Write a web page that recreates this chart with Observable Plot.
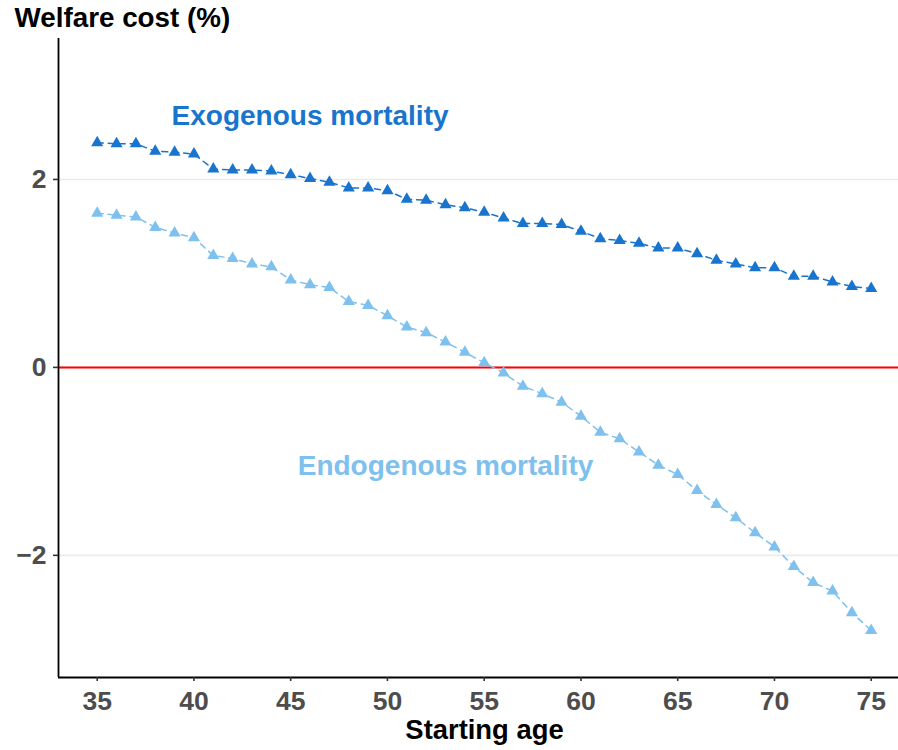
<!DOCTYPE html>
<html>
<head>
<meta charset="utf-8">
<script src="https://cdn.jsdelivr.net/npm/d3@7"></script>
<script src="https://cdn.jsdelivr.net/npm/@observablehq/plot@0.6"></script>
<style>
  html, body { margin: 0; padding: 0; background: white; }
</style>
</head>
<body>
<div id="chart"></div>
<script>
const ages = [35,36,37,38,39,40,41,42,43,44,45,46,47,48,49,50,51,52,53,54,55,56,57,58,59,60,61,62,63,64,65,66,67,68,69,70,71,72,73,74,75];
const exogenous = [2.39,2.38,2.38,2.30,2.29,2.27,2.11,2.10,2.10,2.09,2.05,2.01,1.97,1.91,1.91,1.88,1.79,1.78,1.73,1.70,1.65,1.59,1.53,1.53,1.52,1.45,1.37,1.35,1.32,1.27,1.27,1.21,1.14,1.10,1.06,1.06,0.97,0.97,0.91,0.86,0.84];
const endogenous = [1.64,1.62,1.60,1.49,1.43,1.38,1.19,1.16,1.10,1.07,0.93,0.88,0.85,0.70,0.66,0.55,0.43,0.37,0.27,0.16,0.05,-0.06,-0.20,-0.28,-0.37,-0.52,-0.69,-0.76,-0.90,-1.04,-1.14,-1.31,-1.46,-1.60,-1.76,-1.91,-2.12,-2.29,-2.38,-2.61,-2.80];
const seriesNames = ["Exogenous mortality", "Endogenous mortality"];
const seriesColors = ["#1874CD", "#7EC0EE"];
const labelX = [46.0, 53.0];
const labelY = [2.68, -1.05];
const yTicks = [-2, 0, 2];
const xTicks = [35,40,45,50,55,60,65,70,75];
const yTitle = "Welfare cost (%)";
const xTitle = "Starting age";

const rows = [];
ages.forEach((a, i) => {
  rows.push({age: a, value: exogenous[i], series: seriesNames[0]});
  rows.push({age: a, value: endogenous[i], series: seriesNames[1]});
});
const labels = seriesNames.map((s, i) => ({series: s, x: labelX[i], y: labelY[i]}));

const xDomain = [33.0, 76.41];
const yDomain = [-3.30, 3.50];
const font = "'Liberation Sans', Arial, Helvetica, sans-serif";

const chart = Plot.plot({
  width: 898,
  height: 750,
  marginLeft: 58,
  marginRight: 0,
  marginTop: 38,
  marginBottom: 73,
  style: {fontFamily: font, background: "white", overflow: "visible"},
  x: {domain: xDomain, ticks: xTicks, label: null},
  y: {domain: yDomain, ticks: yTicks, label: null},
  color: {domain: seriesNames, range: seriesColors},
  marks: [
    Plot.ruleY(yTicks, {stroke: "#EBEBEB", strokeWidth: 1.6}),
    Plot.ruleY([0], {stroke: "#FF0000", strokeWidth: 2}),
    Plot.line(rows, {x: "age", y: "value", z: "series", stroke: "series", strokeWidth: 1.5, strokeDasharray: "6,5"}),
    Plot.dot(rows, {x: "age", y: "value", fill: "series", symbol: "triangle", r: 4.5, stroke: null}),
    Plot.text(labels, {x: "x", y: "y", text: "series", fill: "series", fontSize: 28, fontWeight: "bold", textAnchor: "middle"}),
    Plot.ruleX([xDomain[0]], {stroke: "black", strokeWidth: 1.8}),
    Plot.ruleY([yDomain[0]], {stroke: "black", strokeWidth: 1.8}),
    Plot.axisX({ticks: xTicks, tickSize: 4, tickPadding: 9.5, stroke: "#333333", fill: "#4D4D4D", fontSize: 26.5, fontWeight: "bold", label: null, strokeWidth: 1.6}),
    Plot.axisY({ticks: yTicks, tickSize: 5, tickPadding: 7, stroke: "#333333", fill: "#4D4D4D", fontSize: 26.5, fontWeight: "bold", label: null, strokeWidth: 1.6, tickFormat: d3.format("d")}),
    Plot.text([yTitle], {frameAnchor: "top-left", textAnchor: "start", lineAnchor: "top", dx: -44, dy: -31, fontSize: 27.8, fontWeight: "bold", fill: "black"}),
    Plot.text([xTitle], {frameAnchor: "bottom", textAnchor: "middle", lineAnchor: "middle", dx: 6, dy: 52.4, fontSize: 27.4, fontWeight: "bold", fill: "black"})
  ]
});
document.getElementById("chart").appendChild(chart);
</script>
</body>
</html>
